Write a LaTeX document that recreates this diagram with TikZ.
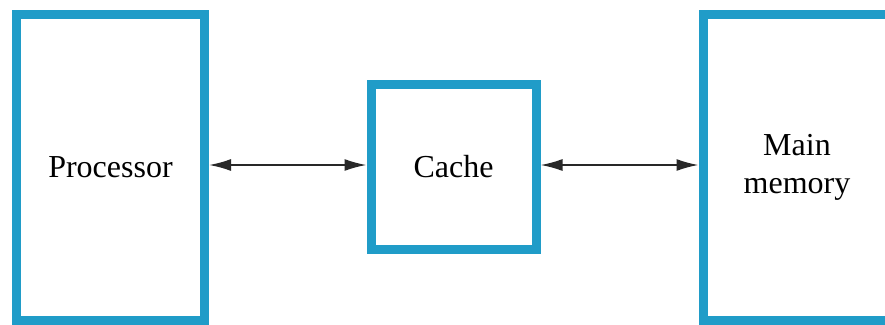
\documentclass[tikz,border=0pt]{standalone}
\usepackage{fontspec}
\setmainfont{Liberation Serif}
\usetikzlibrary{arrows.meta}
\definecolor{unitblue}{RGB}{32,156,200}
\definecolor{linkgray}{RGB}{40,40,40}
\tikzset{
  unit/.style={draw=unitblue, line width=9pt, fill=white, rectangle,
    inner sep=0pt, align=center,
    font=\fontsize{32}{38}\selectfont},
  link/.style={draw=linkgray, line width=1.8pt,
    {Latex[length=22pt,width=12pt]}-{Latex[length=22pt,width=12pt]}}
}
\begin{document}
\begin{tikzpicture}[x=1pt,y=-1pt]
  \useasboundingbox (0,0) rectangle (885,324);
  \clip (0,0) rectangle (885,324);
  \fill[white] (0,0) rectangle (885,324);
  % the three units
  \node[unit, minimum width=188pt, minimum height=306pt] (proc) at (110.5,167) {Processor};
  \node[unit, minimum width=165pt, minimum height=164.5pt] (cache) at (453.5,167) {Cache};
  \node[unit, minimum width=188pt, minimum height=306pt] (mem) at (797,167) {Main\\memory};
  % two-way links between them
  \draw[link] ([yshift=2pt]proc.east) -- ([yshift=2pt]cache.west);
  \draw[link] ([yshift=2pt]cache.east) -- ([yshift=2pt]mem.west);
\end{tikzpicture}
\end{document}
